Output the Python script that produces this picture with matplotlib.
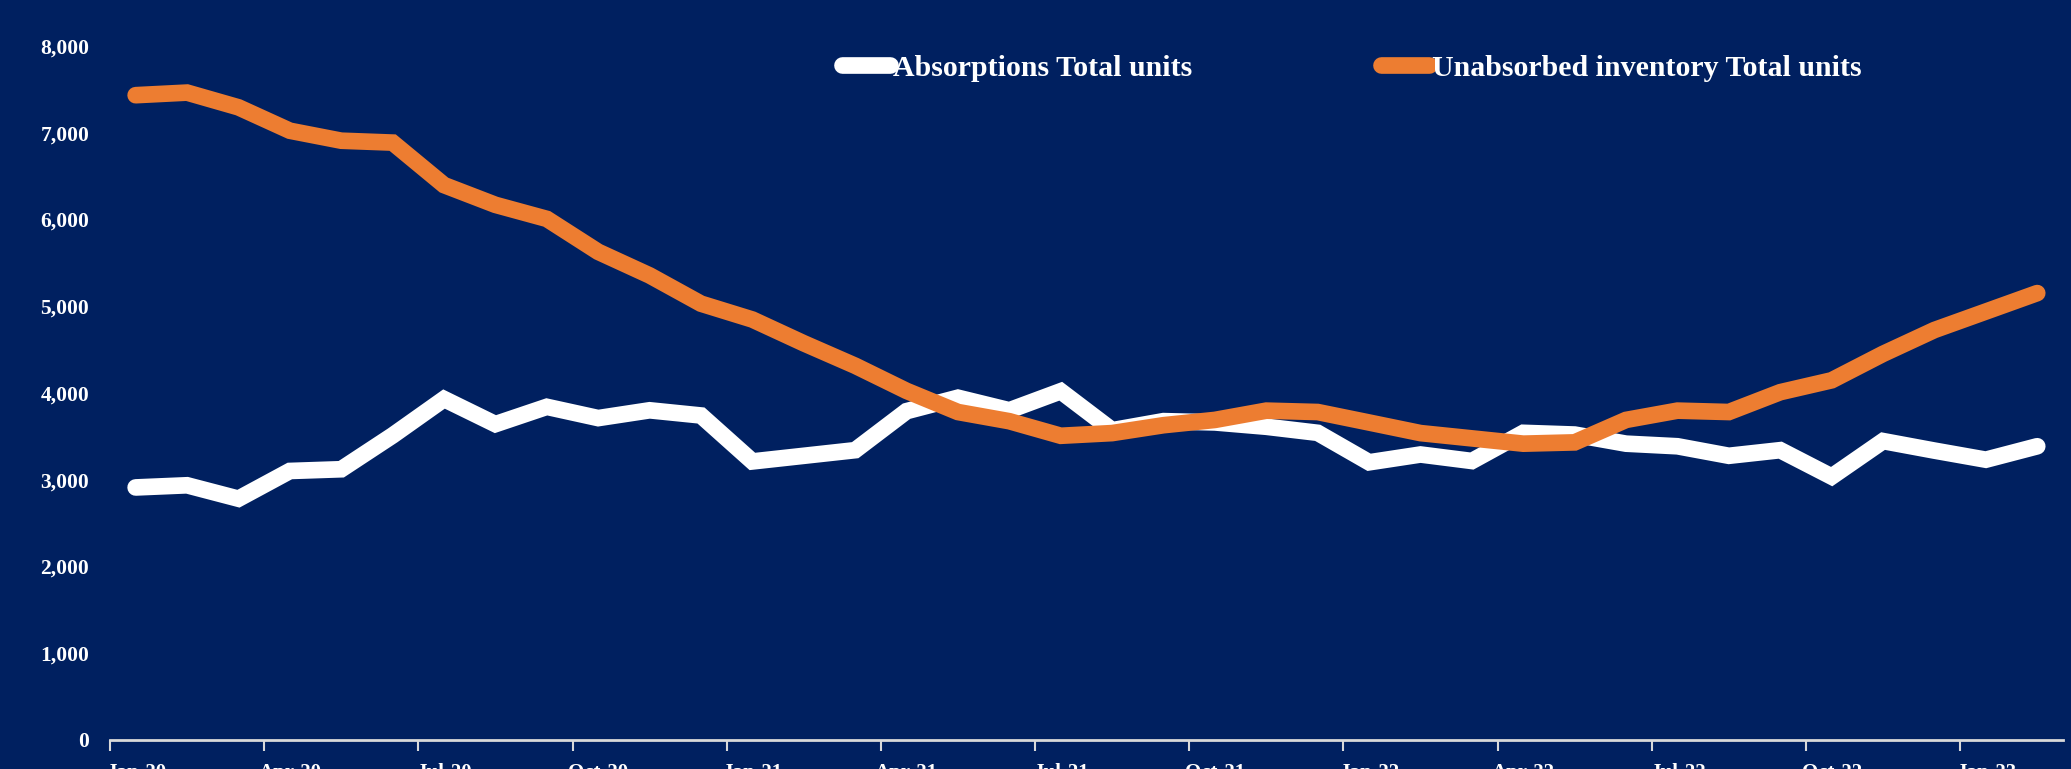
import matplotlib

matplotlib.use("Agg")
import matplotlib.pyplot as plt
from matplotlib.ticker import FixedLocator, FuncFormatter

months = [
    "Jan-20", "Feb-20", "Mar-20", "Apr-20", "May-20", "Jun-20",
    "Jul-20", "Aug-20", "Sep-20", "Oct-20", "Nov-20", "Dec-20",
    "Jan-21", "Feb-21", "Mar-21", "Apr-21", "May-21", "Jun-21",
    "Jul-21", "Aug-21", "Sep-21", "Oct-21", "Nov-21", "Dec-21",
    "Jan-22", "Feb-22", "Mar-22", "Apr-22", "May-22", "Jun-22",
    "Jul-22", "Aug-22", "Sep-22", "Oct-22", "Nov-22", "Dec-22",
    "Jan-23", "Feb-23",
]

absorptions = [
    2910, 2935, 2780, 3100, 3120, 3510, 3930, 3640, 3840, 3710, 3800, 3740,
    3210, 3275, 3340, 3790, 3945, 3800, 4020, 3570, 3675, 3660, 3610, 3540,
    3200, 3290, 3215, 3540, 3520, 3415, 3385, 3275, 3340, 3035, 3445, 3335,
    3230, 3385,
]

unabsorbed = [
    7435, 7465, 7295, 7025, 6910, 6888, 6398, 6170, 6008, 5628, 5356, 5030,
    4847, 4573, 4314, 4024, 3780, 3674, 3506, 3537, 3628, 3689, 3796, 3780,
    3659, 3537, 3476, 3415, 3430, 3689, 3796, 3780, 4009, 4146, 4451, 4726,
    4939, 5152,
]

series_names = ["Absorptions Total units", "Unabsorbed inventory Total units"]

BG = "#002060"
ORANGE = "#ED7D31"
FONT = ["Liberation Serif", "DejaVu Serif"]

plt.rcParams["font.family"] = FONT
plt.rcParams["font.weight"] = "bold"

fig = plt.figure(figsize=(20.71, 7.69), dpi=100, facecolor=BG)
ax = fig.add_axes([0.0531, 0.0381, 0.9430, 0.9018], facecolor=BG)

x = list(range(len(months)))
ax.plot(x, absorptions, color="white", lw=12, solid_capstyle="round",
        solid_joinstyle="miter", label=series_names[0])
ax.plot(x, unabsorbed, color=ORANGE, lw=12, solid_capstyle="round",
        solid_joinstyle="miter", label=series_names[1])

ax.set_xlim(-0.5, len(months) - 0.5)
ax.set_ylim(0, 8000)

for side in ("top", "right", "left"):
    ax.spines[side].set_visible(False)
ax.spines["bottom"].set_color("#D9D9D9")
ax.spines["bottom"].set_linewidth(2)

# ticks at quarter boundaries, labels centred on the month
ax.xaxis.set_major_locator(FixedLocator([i - 0.5 for i in range(0, len(months) + 1, 3)]))
ax.xaxis.set_major_formatter(FuncFormatter(lambda v, p: ""))
ax.xaxis.set_minor_locator(FixedLocator(list(range(0, len(months), 3))))
ax.xaxis.set_minor_formatter(FuncFormatter(lambda v, p: months[int(round(v))]))
ax.tick_params(axis="x", which="major", direction="out", length=8, width=1.5,
               color="#D9D9D9")
ax.tick_params(axis="x", which="minor", length=0, pad=17, labelsize=15,
               labelcolor="white")

ax.yaxis.set_major_locator(FixedLocator(list(range(0, 8001, 1000))))
ax.yaxis.set_major_formatter(FuncFormatter(lambda v, p: f"{int(v):,}"))
ax.tick_params(axis="y", length=0, pad=15, labelsize=15.5, labelcolor="white")
for lbl in ax.get_xticklabels(which="minor") + ax.get_yticklabels():
    lbl.set_fontweight("bold")

leg = fig.legend(loc="center left", bbox_to_anchor=(0.4066, 0.911), ncol=2,
                 frameon=False, fontsize=21.5, handlelength=1.6, handletextpad=0.12,
                 columnspacing=6.3, borderpad=0, borderaxespad=0)
for t in leg.get_texts():
    t.set_color("white")
    t.set_fontweight("bold")

fig.savefig("out.png", dpi=100, facecolor=BG)
